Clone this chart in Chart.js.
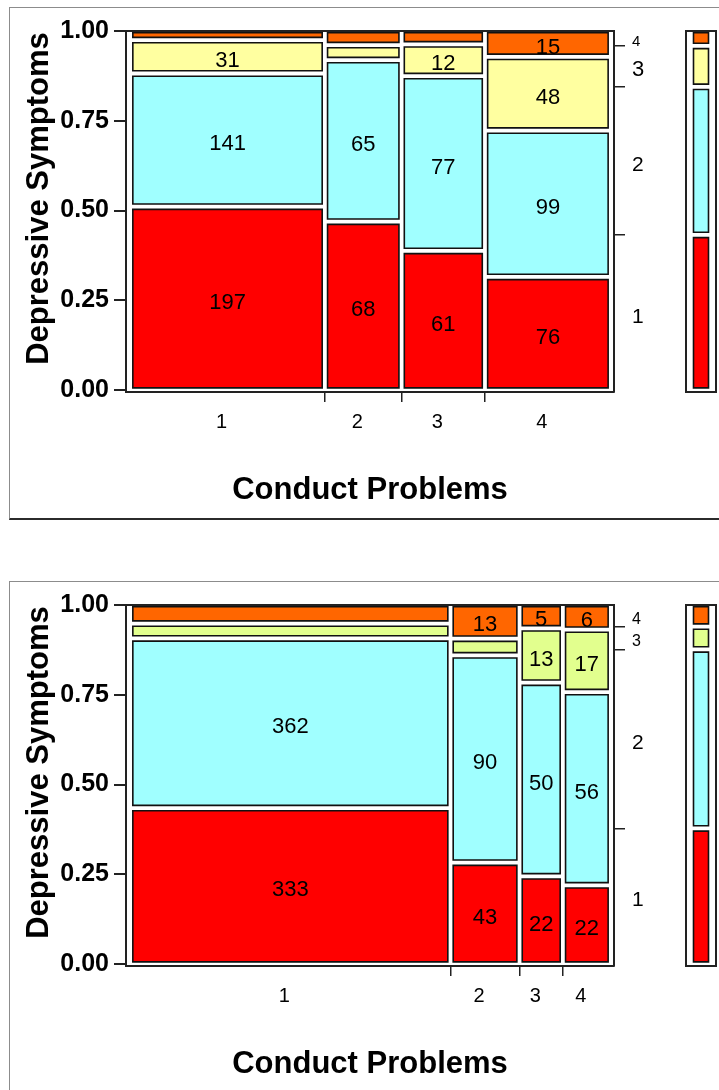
<!DOCTYPE html>
<html>
<head>
<meta charset="utf-8">
<title>Depressive Symptoms by Conduct Problems</title>
<script src="https://cdn.jsdelivr.net/npm/chart.js@4.4.1/dist/chart.umd.min.js"></script>
<style>
    html, body { margin: 0; padding: 0; background: #fff; }
    body { width: 719px; height: 1090px; overflow: hidden; position: relative; }
    .frame { position: absolute; left: 9px; width: 800px; box-sizing: border-box;
             border: 1px solid #8c8c8c; border-bottom: 2px solid #2b2b2b; }
    #frameUpper { top: 7px; height: 513px; }
    #frameLower { top: 581px; height: 600px; }
    canvas { position: absolute; }
    #mosaicUpper { left: 0; top: 0; }
    #marginUpper { left: 676px; top: 0; }
    #mosaicLower { left: 0; top: 574px; }
    #marginLower { left: 676px; top: 574px; }
</style>
</head>
<body>
<div class="frame" id="frameUpper"></div>
<div class="frame" id="frameLower"></div>
<canvas id="mosaicUpper" width="719" height="540"></canvas>
<canvas id="marginUpper" width="43" height="540"></canvas>
<canvas id="mosaicLower" width="719" height="540"></canvas>
<canvas id="marginLower" width="43" height="540"></canvas>

<script>
const conductLevels = ['1', '2', '3', '4'];
const depressiveLevels = ['1', '2', '3', '4'];
const yTickValues = [0, 0.25, 0.5, 0.75, 1];

// upper panel: counts for conduct problems 1..4, one array per depressive symptoms level
const upperDep1 = [197, 68, 61, 76];
const upperDep2 = [141, 65, 77, 99];
const upperDep3 = [31, 4, 12, 48];
const upperDep4 = [5, 4, 4, 15];
// tiles printed without their count ("conduct-depressive")
const upperUnlabelled = ['1-4', '2-3', '2-4', '3-4'];

// lower panel
const lowerDep1 = [333, 43, 22, 22];
const lowerDep2 = [362, 90, 50, 56];
const lowerDep3 = [21, 5, 13, 17];
const lowerDep4 = [31, 13, 5, 6];
const lowerUnlabelled = ['1-3', '1-4', '2-3'];

const FONT = "'Liberation Sans', Arial, Helvetica, sans-serif";
const upperColors = ['#ff0000', '#a0ffff', '#ffffa0', '#ff6600'];
const lowerColors = ['#ff0000', '#a0ffff', '#e2ff8e', '#ff6600'];
const upperRightSizes = [21, 21, 22, 15];
const lowerRightSizes = [21, 21, 16, 16];

// tile spacing, in axis units
const X_LO = 0.014, X_HI = 0.988, X_GAP = 0.011;
const Y_LO = 0.006, Y_HI = 0.995, Y_GAP = 0.015;
const Y_MIN = -0.0055, Y_MAX = 1;

Chart.defaults.font.family = FONT;
Chart.defaults.color = '#000';

function sum(arr) {
    return arr.reduce((a, b) => a + b, 0);
}

function stack(counts) {
    const total = sum(counts);
    const room = (Y_HI - Y_LO) - (counts.length - 1) * Y_GAP;
    let y = Y_LO;
    return counts.map((n) => {
        const h = n / total * room;
        const band = { y0: y, y1: y + h };
        y += h + Y_GAP;
        return band;
    });
}

function mosaicColumns(rows) {
    const colTotals = conductLevels.map((c, j) => sum(rows.map(r => r[j])));
    const grand = sum(colTotals);
    const room = (X_HI - X_LO) - (conductLevels.length - 1) * X_GAP;
    const columns = [];
    let x = X_LO;
    colTotals.forEach((t, j) => {
        const w = t / grand * room;
        columns.push({ x0: x, x1: x + w, bands: stack(rows.map(r => r[j])) });
        x += w + X_GAP;
    });
    return columns;
}

function rect(x0, x1, y0, y1) {
    return [{ x: x0, y: y0 }, { x: x0, y: y1 }, { x: x1, y: y1 }, { x: x1, y: y0 }, { x: x0, y: y0 }];
}

function tile(points, color) {
    return {
        data: points,
        backgroundColor: color,
        borderColor: '#111',
        borderWidth: 1.6,
        borderJoinStyle: 'miter',
        borderCapStyle: 'square',
        fill: 'shape',
        tension: 0,
        pointRadius: 0,
        pointHoverRadius: 0
    };
}

const countLabels = {
    id: 'countLabels',
    afterDatasetsDraw(chart) {
        const { ctx, scales: { x, y } } = chart;
        ctx.save();
        ctx.font = '22px ' + FONT;
        ctx.fillStyle = '#000';
        ctx.textAlign = 'center';
        ctx.textBaseline = 'middle';
        chart.data.datasets.forEach((ds) => {
            if (!ds.showCount) return;
            const cx = x.getPixelForValue((ds.data[0].x + ds.data[2].x) / 2);
            const cy = y.getPixelForValue((ds.data[0].y + ds.data[2].y) / 2);
            ctx.fillText(String(ds.count), cx, cy + 4);
        });
        ctx.restore();
    }
};

const sideTitle = {
    id: 'sideTitle',
    afterDraw(chart, args, opts) {
        if (!opts.text) return;
        const { ctx, chartArea } = chart;
        ctx.save();
        ctx.translate(chartArea.left - 86.5, (chartArea.top + chartArea.bottom) / 2 - 13);
        ctx.rotate(-Math.PI / 2);
        ctx.font = 'bold 31px ' + FONT;
        ctx.fillStyle = '#000';
        ctx.textAlign = 'center';
        ctx.textBaseline = 'middle';
        ctx.fillText(opts.text, 0, 0);
        ctx.restore();
    }
};

const edgeColor = (c) => (c.tick && c.tick.kind === 'edge' ? '#222' : 'rgba(0,0,0,0)');

function frameAxis(position) {
    const horizontal = position === 'top' || position === 'bottom';
    return {
        type: 'linear',
        position: position,
        min: horizontal ? 0 : Y_MIN,
        max: horizontal ? 1 : Y_MAX,
        afterFit: (s) => { if (horizontal) s.height = 0; else s.width = 0; },
        grid: { drawOnChartArea: false, drawTicks: false, color: 'rgba(0,0,0,0)' },
        ticks: { display: false },
        border: { display: true, color: '#222', width: 2 }
    };
}

function drawPanel(mosaicId, marginId, rows, colors, unlabelled, rightSizes) {
    const columns = mosaicColumns(rows);

    const datasets = [];
    columns.forEach((col, j) => {
        col.bands.forEach((b, i) => {
            const ds = tile(rect(col.x0, col.x1, b.y0, b.y1), colors[i]);
            ds.count = rows[i][j];
            ds.showCount = !unlabelled.includes(conductLevels[j] + '-' + depressiveLevels[i]);
            datasets.push(ds);
        });
    });

    const xTicks = [];
    columns.forEach((col, j) => {
        xTicks.push({ value: (col.x0 + col.x1) / 2, kind: 'centre', name: conductLevels[j] });
        if (j < columns.length - 1) {
            xTicks.push({ value: (col.x1 + columns[j + 1].x0) / 2, kind: 'edge', name: '' });
        }
    });

    // marginal distribution of depressive symptoms
    const rowTotals = rows.map(sum);
    const marginBands = stack(rowTotals);
    const rightTicks = [];
    marginBands.forEach((b, i) => {
        rightTicks.push({ value: (b.y0 + b.y1) / 2, kind: 'centre', name: depressiveLevels[i], size: rightSizes[i] });
        if (i < marginBands.length - 1) {
            rightTicks.push({ value: (b.y1 + marginBands[i + 1].y0) / 2, kind: 'edge', name: '' });
        }
    });

    new Chart(document.getElementById(mosaicId).getContext('2d'), {
        type: 'line',
        data: { datasets: datasets },
        plugins: [countLabels, sideTitle],
        options: {
            animation: false,
            responsive: false,
            devicePixelRatio: 1,
            events: [],
            layout: { padding: { left: 0, top: 31, right: 0, bottom: 20 } },
            plugins: {
                legend: { display: false },
                tooltip: { enabled: false },
                sideTitle: { text: 'Depressive Symptoms' }
            },
            scales: {
                x: {
                    type: 'linear',
                    position: 'bottom',
                    min: 0,
                    max: 1,
                    afterBuildTicks: (s) => { s.ticks = xTicks.map(t => Object.assign({}, t)); },
                    afterFit: (s) => { s.height = 128; },
                    grid: { drawOnChartArea: false, tickLength: 10, lineWidth: 1.5, color: edgeColor },
                    border: { display: true, color: '#222', width: 2 },
                    ticks: {
                        autoSkip: false, maxRotation: 0, minRotation: 0,
                        padding: 8, labelOffset: -6,
                        font: { size: 20 },
                        callback: (v, i, ticks) => ticks[i].name || ''
                    },
                    title: {
                        display: true,
                        text: 'Conduct Problems',
                        font: { size: 31, weight: 'bold' },
                        padding: { top: 0, bottom: 11 }
                    }
                },
                x2: frameAxis('top'),
                y: {
                    type: 'linear',
                    position: 'left',
                    min: Y_MIN,
                    max: Y_MAX,
                    afterBuildTicks: (s) => { s.ticks = yTickValues.map(v => ({ value: v })); },
                    afterFit: (s) => { s.width = 126; },
                    grid: { drawOnChartArea: false, tickLength: 12, lineWidth: 2, color: '#222' },
                    border: { display: true, color: '#222', width: 2 },
                    ticks: {
                        autoSkip: false, padding: 5,
                        font: { size: 25, weight: 'bold' },
                        callback: (v) => Number(v).toFixed(2)
                    }
                },
                y2: {
                    type: 'linear',
                    position: 'right',
                    min: Y_MIN,
                    max: Y_MAX,
                    afterBuildTicks: (s) => { s.ticks = rightTicks.map(t => Object.assign({}, t)); },
                    afterFit: (s) => { s.width = 105; },
                    grid: { drawOnChartArea: false, tickLength: 11, lineWidth: 1.5, color: edgeColor },
                    border: { display: true, color: '#222', width: 2 },
                    ticks: {
                        autoSkip: false, padding: 7, labelOffset: 4,
                        font: (c) => ({ family: FONT, size: (c.tick && c.tick.size) || 21 }),
                        callback: (v, i, ticks) => ticks[i].name || ''
                    }
                }
            }
        }
    });

    const marginSets = marginBands.map((b, i) => tile(rect(0.25, 0.75, b.y0, b.y1), colors[i]));

    new Chart(document.getElementById(marginId).getContext('2d'), {
        type: 'line',
        data: { datasets: marginSets },
        options: {
            animation: false,
            responsive: false,
            devicePixelRatio: 1,
            events: [],
            layout: { padding: { left: 10, top: 31, right: 3, bottom: 148 } },
            plugins: { legend: { display: false }, tooltip: { enabled: false } },
            scales: {
                x: frameAxis('bottom'),
                x2: frameAxis('top'),
                y: frameAxis('left'),
                y2: frameAxis('right')
            }
        }
    });
}

drawPanel('mosaicUpper', 'marginUpper',
    [upperDep1, upperDep2, upperDep3, upperDep4], upperColors, upperUnlabelled, upperRightSizes);
drawPanel('mosaicLower', 'marginLower',
    [lowerDep1, lowerDep2, lowerDep3, lowerDep4], lowerColors, lowerUnlabelled, lowerRightSizes);
</script>
</body>
</html>
